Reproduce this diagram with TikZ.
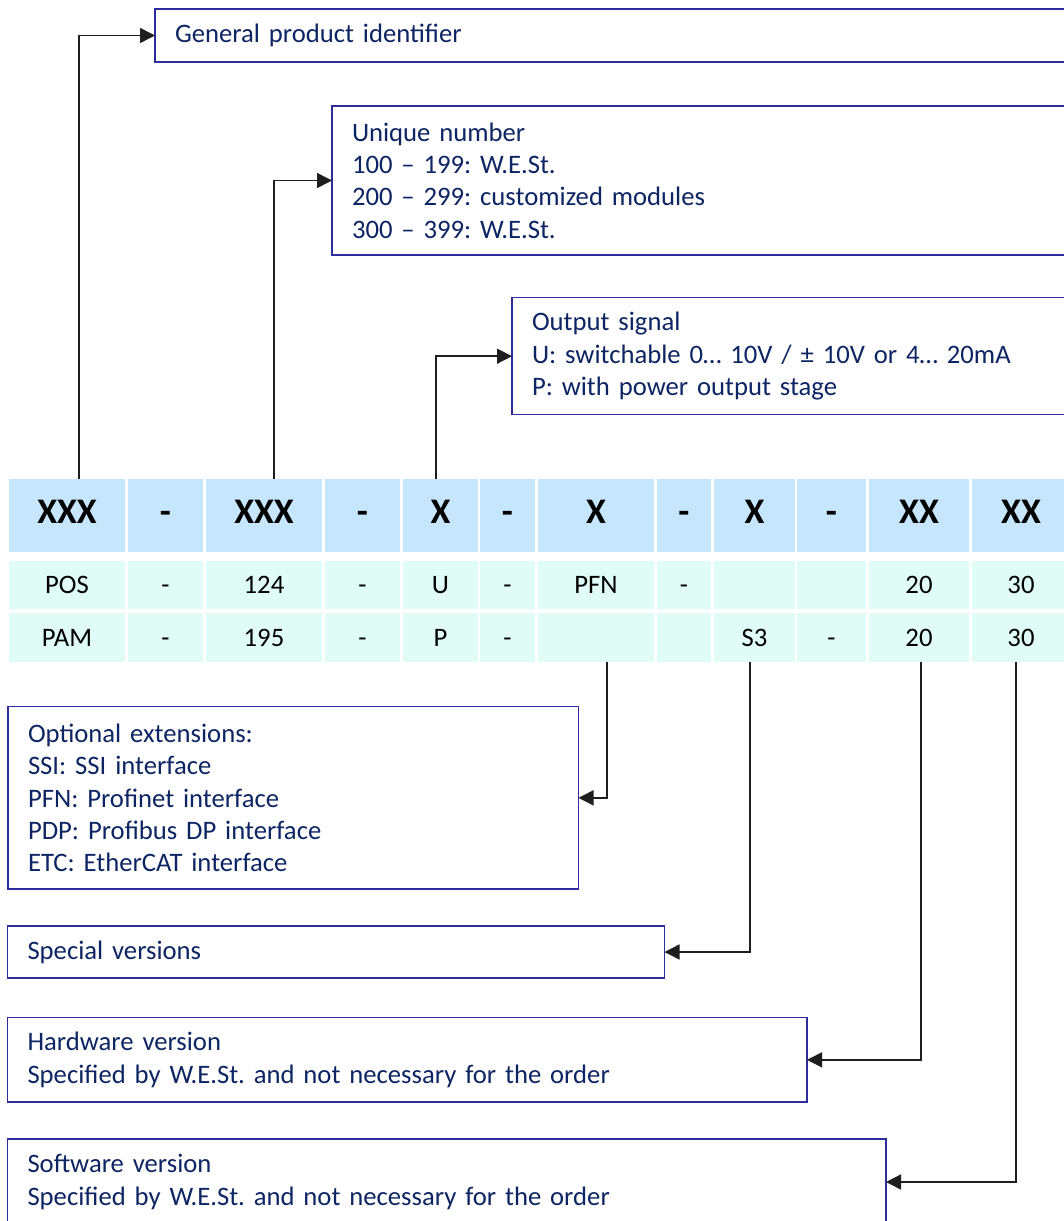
\documentclass[tikz,border=0pt]{standalone}
\usepackage{fontspec}
\setmainfont{Carlito}
\usetikzlibrary{arrows.meta,calc}
\definecolor{hdr}{RGB}{197,230,252}
\definecolor{rowc}{RGB}{224,252,247}
\definecolor{boxc}{RGB}{45,45,155}
\definecolor{navy}{RGB}{13,37,99}
\definecolor{connc}{RGB}{30,30,30}
\newcommand\boxfont{\fontsize{26.67pt}{32.3pt}\selectfont\frenchspacing}
\newcommand\hdrfont{\fontsize{36pt}{40pt}\selectfont\bfseries}
\begin{document}
\begin{tikzpicture}[x=1pt,y=-1pt,
 infobox/.style={draw=boxc, line width=1.3pt, text=navy, align=left, anchor=north west, inner xsep=20pt, inner ysep=0pt, outer sep=0pt, font=\boxfont},
 cell/.style={anchor=north west, inner sep=0pt, outer sep=0pt, text=black},
 hcell/.style={cell, fill=hdr, minimum height=73pt, font=\hdrfont, text height=23pt, text depth=8pt},
 rcell/.style={cell, fill=rowc, font=\boxfont, text height=17.2pt, text depth=0pt},
 conn/.style={draw=connc, line width=1.5pt, -{Triangle[length=15pt,width=15pt]}}]
\useasboundingbox (0,0) rectangle (1064,1221);
\clip (0,0) rectangle (1064,1221);
\fill[white] (0,0) rectangle (1064,1221);

\foreach \n/\l/\w/\ha/\ra/\rb in {
  1/9/116/XXX/POS/PAM,
  2/128/75/-/-/-,
  3/206/116/XXX/124/195,
  4/325/75/-/-/-,
  5/403/75/X/U/P,
  6/480/55/-/-/-,
  7/538/116/X/PFN/{},
  8/657/54/-/-/{},
  9/714/81/X/{}/S3,
  10/797/69/-/{}/-,
  11/869/100/XX/20/20,
  12/972/98/XX/30/30}{
  \node[hcell, minimum width=\w pt] (h\n) at (\l,479) {\ha};
  \node[rcell, minimum width=\w pt, minimum height=48pt] (a\n) at (\l,561) {\ra};
  \node[rcell, minimum width=\w pt, minimum height=49pt] (b\n) at (\l,613) {\rb};
}

\node[infobox, text width=895pt, minimum height=53pt] (t1) at (155,9) {General product identifier};
\node[infobox, text width=720pt, minimum height=149pt] (t2) at (332,106) {Unique number\\100 – 199: W.E.St.\\200 – 299: customized modules\\300 – 399: W.E.St.};
\node[infobox, text width=540pt, minimum height=117pt] (t3) at (512,297.7) {Output signal\\U: switchable 0… 10V / ± 10V or 4… 20mA\\P: with power output stage};
\node[infobox, text width=530.5pt, minimum height=182.3pt] (t4) at (8,706.7) {Optional extensions:\\SSI: SSI interface\\PFN: Profinet interface\\PDP: Profibus DP interface\\ETC: EtherCAT interface};
\node[infobox, text width=617pt, minimum height=52pt] (t5) at (7.5,926) {Special versions};
\node[infobox, text width=759.5pt, minimum height=84.3pt] (t6) at (7.5,1017.7) {Hardware version\\Specified by W.E.St. and not necessary for the order};
\node[infobox, text width=838.5pt, minimum height=86pt] (t7) at (7.5,1139) {Software version\\Specified by W.E.St. and not necessary for the order};

\draw[conn] ([xshift=12pt]h1.north) |- (t1.west);
\draw[conn] ([xshift=10pt]h3.north) |- (t2.west);
\draw[conn] ([xshift=-4.5pt]h5.north) |- (t3.west);
\draw[conn] ([xshift=11pt]b7.south) |- (t4.east);
\draw[conn] ([xshift=-4.5pt]b9.south) |- (t5.east);
\draw[conn] ([xshift=2pt]b11.south) |- (t6.east);
\draw[conn] ([xshift=-5pt]b12.south) |- (t7.east);
\end{tikzpicture}
\end{document}
